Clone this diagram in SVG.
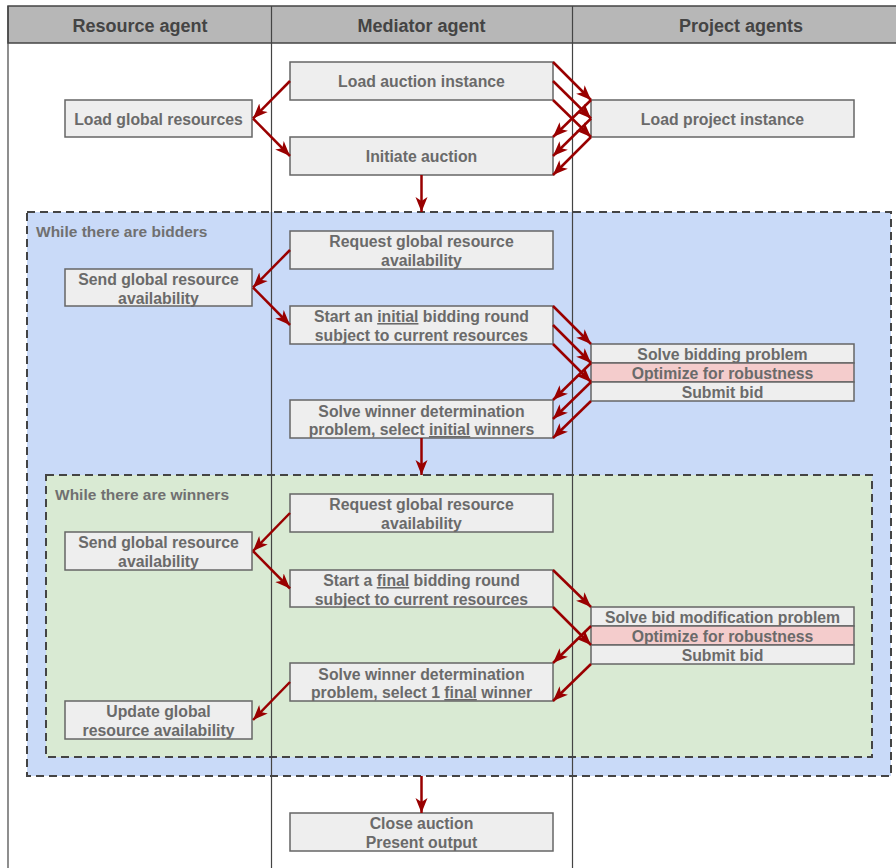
<svg xmlns="http://www.w3.org/2000/svg" width="896" height="868" viewBox="0 0 896 868">
  <style>
    .hdr { fill: #b7b7b7; stroke: #444; stroke-width: 1.5; }
    .hdr-t { font-family: "Liberation Sans", Arial, sans-serif; font-weight: bold; font-size: 18px; fill: #444; text-anchor: middle; }
    .lane { stroke: #444; stroke-width: 1.2; fill: none; }
    .loop { stroke: #444; stroke-width: 2; stroke-dasharray: 8 5; }
    .loop-t { font-family: "Liberation Sans", Arial, sans-serif; font-weight: bold; font-size: 15.5px; fill: #707070; }
    .box { fill: #eeeeee; stroke: #666; stroke-width: 1.5; }
    .box-hl { fill: #f4cccc; stroke: #666; stroke-width: 1.5; }
    .t { font-family: "Liberation Sans", Arial, sans-serif; font-weight: bold; font-size: 15.8px; fill: #6a6a6a; text-anchor: middle; }
    .u { text-decoration: underline; }
    .c { stroke: #990000; stroke-width: 2.5; fill: none; marker-end: url(#ah); }
  </style>
  <defs>
    <marker id="ah" markerUnits="userSpaceOnUse" markerWidth="16" markerHeight="14" refX="15" refY="7" orient="auto" viewBox="0 0 16 14">
      <path d="M0,1 L15,7 L0,13 L4,7 Z" fill="#990000"/>
    </marker>
  </defs>

  <rect x="0" y="0" width="896" height="868" fill="#ffffff"/>

  <!-- loop frames -->
  <g id="loop-bidders">
    <rect class="loop" x="27" y="212" width="864" height="564" fill="#c9daf8"/>
    <text class="loop-t" x="36" y="237">While there are bidders</text>
  </g>
  <g id="loop-winners">
    <rect class="loop" x="46" y="475" width="826" height="282" fill="#d9ead3"/>
    <text class="loop-t" x="55" y="500">While there are winners</text>
  </g>

  <!-- swimlanes -->
  <g id="lanes">
    <rect class="hdr" x="8" y="6" width="900" height="37"/>
    <line class="lane" x1="8" y1="6" x2="8" y2="868"/>
    <line class="lane" x1="271.5" y1="6" x2="271.5" y2="868"/>
    <line class="lane" x1="572.5" y1="6" x2="572.5" y2="868"/>
    <text class="hdr-t" x="140" y="31.5">Resource agent</text>
    <text class="hdr-t" x="421.5" y="31.5">Mediator agent</text>
    <text class="hdr-t" x="741" y="31.5">Project agents</text>
  </g>

  <!-- nodes -->
  <g id="load-auction">
    <rect class="box" x="290" y="62" width="263" height="38"/>
    <text class="t" x="421.5" y="87">Load auction instance</text>
  </g>
  <g id="load-global">
    <rect class="box" x="65" y="100" width="187" height="37"/>
    <text class="t" x="158.5" y="125">Load global resources</text>
  </g>
  <g id="load-project">
    <rect class="box" x="591" y="100" width="263" height="37"/>
    <text class="t" x="722.5" y="125">Load project instance</text>
  </g>
  <g id="initiate">
    <rect class="box" x="290" y="137" width="263" height="38"/>
    <text class="t" x="421.5" y="162">Initiate auction</text>
  </g>

  <g id="request-1">
    <rect class="box" x="290" y="231" width="263" height="38"/>
    <text class="t" x="421.5" y="247">Request global resource</text>
    <text class="t" x="421.5" y="266">availability</text>
  </g>
  <g id="send-1">
    <rect class="box" x="65" y="269" width="187" height="37"/>
    <text class="t" x="158.5" y="285">Send global resource</text>
    <text class="t" x="158.5" y="304">availability</text>
  </g>
  <g id="start-initial">
    <rect class="box" x="290" y="306" width="263" height="38"/>
    <text class="t" x="421.5" y="322">Start an <tspan class="u">initial</tspan> bidding round</text>
    <text class="t" x="421.5" y="341">subject to current resources</text>
  </g>
  <g id="bid-1">
    <rect class="box" x="591" y="344" width="263" height="19"/>
    <rect class="box-hl" x="591" y="363" width="263" height="19"/>
    <rect class="box" x="591" y="382" width="263" height="19"/>
    <text class="t" x="722.5" y="360">Solve bidding problem</text>
    <text class="t" x="722.5" y="379">Optimize for robustness</text>
    <text class="t" x="722.5" y="398">Submit bid</text>
  </g>
  <g id="wdp-initial">
    <rect class="box" x="290" y="400" width="263" height="38"/>
    <text class="t" x="421.5" y="416.5">Solve winner determination</text>
    <text class="t" x="421.5" y="435">problem, select <tspan class="u">initial</tspan> winners</text>
  </g>

  <g id="request-2">
    <rect class="box" x="290" y="494" width="263" height="38"/>
    <text class="t" x="421.5" y="510">Request global resource</text>
    <text class="t" x="421.5" y="529">availability</text>
  </g>
  <g id="send-2">
    <rect class="box" x="65" y="532" width="187" height="38"/>
    <text class="t" x="158.5" y="548">Send global resource</text>
    <text class="t" x="158.5" y="567">availability</text>
  </g>
  <g id="start-final">
    <rect class="box" x="290" y="570" width="263" height="37"/>
    <text class="t" x="421.5" y="586">Start a <tspan class="u">final</tspan> bidding round</text>
    <text class="t" x="421.5" y="605">subject to current resources</text>
  </g>
  <g id="bid-2">
    <rect class="box" x="591" y="607" width="263" height="19"/>
    <rect class="box-hl" x="591" y="626" width="263" height="19"/>
    <rect class="box" x="591" y="645" width="263" height="19"/>
    <text class="t" x="722.5" y="623">Solve bid modification problem</text>
    <text class="t" x="722.5" y="642">Optimize for robustness</text>
    <text class="t" x="722.5" y="661">Submit bid</text>
  </g>
  <g id="wdp-final">
    <rect class="box" x="290" y="663" width="263" height="38"/>
    <text class="t" x="421.5" y="679.5">Solve winner determination</text>
    <text class="t" x="421.5" y="698">problem, select 1 <tspan class="u">final</tspan> winner</text>
  </g>
  <g id="update-global">
    <rect class="box" x="65" y="701" width="187" height="38"/>
    <text class="t" x="158.5" y="717">Update global</text>
    <text class="t" x="158.5" y="736">resource availability</text>
  </g>

  <g id="close">
    <rect class="box" x="290" y="813" width="263" height="38"/>
    <text class="t" x="421.5" y="829">Close auction</text>
    <text class="t" x="421.5" y="848">Present output</text>
  </g>

  <!-- connectors -->
  <g id="connectors">
    <line class="c" x1="290" y1="81" x2="253" y2="118.5"/>
    <line class="c" x1="253" y1="118.5" x2="290" y2="156"/>
    <line class="c" x1="553" y1="62" x2="591" y2="100"/>
    <line class="c" x1="553" y1="81" x2="591" y2="118.5"/>
    <line class="c" x1="553" y1="100" x2="591" y2="137"/>
    <line class="c" x1="591" y1="100" x2="553" y2="137"/>
    <line class="c" x1="591" y1="118.5" x2="553" y2="156"/>
    <line class="c" x1="591" y1="137" x2="553" y2="175"/>
    <line class="c" x1="421.5" y1="175" x2="421.5" y2="212"/>

    <line class="c" x1="290" y1="250" x2="253" y2="287.5"/>
    <line class="c" x1="253" y1="287.5" x2="290" y2="325"/>
    <line class="c" x1="553" y1="306" x2="591" y2="344"/>
    <line class="c" x1="553" y1="325" x2="591" y2="363"/>
    <line class="c" x1="553" y1="344" x2="591" y2="382"/>
    <line class="c" x1="591" y1="363" x2="553" y2="400"/>
    <line class="c" x1="591" y1="382" x2="553" y2="419"/>
    <line class="c" x1="591" y1="401" x2="553" y2="438"/>
    <line class="c" x1="421.5" y1="438" x2="421.5" y2="475"/>

    <line class="c" x1="290" y1="513" x2="253" y2="551"/>
    <line class="c" x1="253" y1="551" x2="290" y2="588.5"/>
    <line class="c" x1="553" y1="570" x2="591" y2="607"/>
    <line class="c" x1="553" y1="607" x2="591" y2="645"/>
    <line class="c" x1="591" y1="626" x2="553" y2="663"/>
    <line class="c" x1="591" y1="664" x2="553" y2="701"/>
    <line class="c" x1="290" y1="682" x2="253" y2="720"/>
    <line class="c" x1="421.5" y1="776" x2="421.5" y2="813"/>
  </g>
</svg>
